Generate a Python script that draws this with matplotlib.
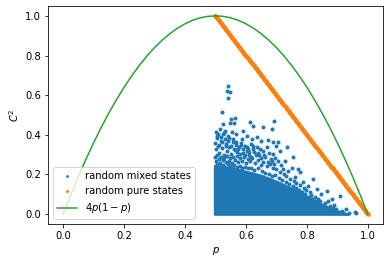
import matplotlib
matplotlib.use("Agg")
import matplotlib.pyplot as plt

# ---- data ----
# random mixed states: isolated points around the dense core
mixed_p = [0.542, 0.538, 0.548, 0.542, 0.522, 0.550, 0.564, 0.548, 0.561, 0.526,
           0.613, 0.624, 0.657, 0.684, 0.693, 0.515, 0.531, 0.524, 0.506, 0.542,
           0.553, 0.569, 0.591, 0.602, 0.586, 0.619, 0.635, 0.651, 0.673, 0.690,
           0.700, 0.668, 0.646, 0.624, 0.608,
           0.706, 0.735, 0.711, 0.690, 0.728, 0.755, 0.692, 0.722, 0.739, 0.750,
           0.771, 0.777, 0.819, 0.761, 0.788, 0.804, 0.832, 0.865, 0.848, 0.881,
           0.870, 0.908, 0.897, 0.914, 0.853, 0.821, 0.930, 0.957, 0.963, 0.940,
           0.500, 0.503, 0.508, 0.512, 0.518, 0.521, 0.527, 0.533, 0.537, 0.545,
           0.550, 0.556, 0.560, 0.566, 0.572, 0.578, 0.583, 0.590, 0.596, 0.603,
           0.611, 0.617, 0.628, 0.636, 0.642, 0.655, 0.662, 0.675, 0.681, 0.697,
           0.705, 0.715,
           0.500, 0.502, 0.506, 0.510, 0.515, 0.519, 0.524, 0.529, 0.534, 0.539,
           0.544, 0.549, 0.554, 0.559, 0.565, 0.570, 0.575, 0.581, 0.587, 0.593,
           0.599, 0.606, 0.614, 0.621, 0.630, 0.639, 0.648, 0.657, 0.668, 0.678,
           0.688, 0.700, 0.712, 0.725, 0.733, 0.745, 0.757, 0.766, 0.778, 0.790,
           0.797, 0.810, 0.815, 0.826, 0.838, 0.843, 0.860, 0.875, 0.885, 0.890,
           0.905, 0.920,
           0.501, 0.504, 0.509, 0.513, 0.517, 0.523, 0.528, 0.532, 0.536, 0.541,
           0.546, 0.552, 0.557, 0.563, 0.568, 0.574, 0.580, 0.585, 0.592, 0.598,
           0.604, 0.610, 0.616, 0.623, 0.632, 0.641, 0.650, 0.660, 0.671, 0.684,
           0.501, 0.505, 0.511, 0.516, 0.525, 0.530, 0.540, 0.547, 0.555, 0.562,
           0.571, 0.579, 0.588, 0.597, 0.607, 0.618, 0.627, 0.638, 0.653, 0.664,
           0.676, 0.686, 0.695, 0.708, 0.718, 0.730, 0.742, 0.753, 0.764, 0.775,
           0.785, 0.795, 0.807, 0.818, 0.830, 0.841, 0.852, 0.863, 0.872, 0.884]
mixed_c = [0.644, 0.622, 0.617, 0.588, 0.516, 0.479, 0.483, 0.459, 0.462, 0.454,
           0.466, 0.445, 0.437, 0.429, 0.472, 0.429, 0.420, 0.403, 0.395, 0.395,
           0.412, 0.403, 0.420, 0.395, 0.378, 0.378, 0.387, 0.370, 0.375, 0.362,
           0.344, 0.336, 0.328, 0.344, 0.328,
           0.362, 0.336, 0.319, 0.303, 0.269, 0.286, 0.252, 0.227, 0.218, 0.235,
           0.227, 0.210, 0.176, 0.185, 0.160, 0.143, 0.126, 0.118, 0.101, 0.076,
           0.067, 0.092, 0.025, 0.017, 0.042, 0.050, 0.025, 0.009, 0.004, 0.006,
           0.360, 0.330, 0.345, 0.310, 0.370, 0.335, 0.300, 0.355, 0.320, 0.340,
           0.305, 0.365, 0.330, 0.350, 0.315, 0.340, 0.360, 0.310, 0.345, 0.320,
           0.300, 0.355, 0.315, 0.340, 0.300, 0.320, 0.290, 0.310, 0.280, 0.285,
           0.270, 0.250,
           0.290, 0.270, 0.300, 0.280, 0.260, 0.290, 0.275, 0.285, 0.265, 0.295,
           0.270, 0.285, 0.260, 0.290, 0.275, 0.295, 0.265, 0.285, 0.270, 0.290,
           0.260, 0.280, 0.270, 0.285, 0.260, 0.275, 0.250, 0.265, 0.245, 0.255,
           0.235, 0.225, 0.210, 0.200, 0.190, 0.175, 0.165, 0.155, 0.145, 0.130,
           0.120, 0.110, 0.095, 0.085, 0.075, 0.065, 0.055, 0.040, 0.030, 0.045,
           0.012, 0.008,
           0.415, 0.385, 0.405, 0.350, 0.390, 0.365, 0.410, 0.380, 0.345, 0.370,
           0.385, 0.345, 0.380, 0.325, 0.365, 0.330, 0.305, 0.350, 0.330, 0.300,
           0.340, 0.315, 0.290, 0.330, 0.300, 0.310, 0.285, 0.300, 0.265, 0.270,
           0.240, 0.255, 0.245, 0.235, 0.250, 0.240, 0.255, 0.245, 0.240, 0.250,
           0.240, 0.245, 0.235, 0.240, 0.230, 0.235, 0.220, 0.230, 0.215, 0.205,
           0.200, 0.190, 0.195, 0.180, 0.170, 0.160, 0.150, 0.140, 0.130, 0.120,
           0.112, 0.100, 0.088, 0.078, 0.068, 0.058, 0.048, 0.036, 0.022, 0.015]

# dense core of random mixed states: upper boundary
core_p = [0.497, 0.52, 0.56, 0.60, 0.65, 0.70, 0.75, 0.80, 0.85, 0.88, 0.91, 0.935]
core_top = [0.245, 0.24, 0.23, 0.215, 0.195, 0.165, 0.13, 0.09, 0.047, 0.026, 0.01, 0.0]

# random pure states
pure_p = [0.500, 0.505, 0.510, 0.515, 0.520, 0.525, 0.530, 0.535, 0.540, 0.545,
          0.550, 0.555, 0.560, 0.565, 0.570, 0.575, 0.580, 0.585, 0.590, 0.595,
          0.600, 0.605, 0.610, 0.615, 0.620, 0.625, 0.630, 0.635, 0.640, 0.645,
          0.650, 0.655, 0.660, 0.665, 0.670, 0.675, 0.680, 0.685, 0.690, 0.695,
          0.700, 0.705, 0.710, 0.715, 0.720, 0.725, 0.730, 0.735, 0.740, 0.745,
          0.750, 0.755, 0.760, 0.765, 0.770, 0.775, 0.780, 0.785, 0.790, 0.795,
          0.800, 0.805, 0.810, 0.815, 0.820, 0.825, 0.830, 0.835, 0.840, 0.845,
          0.850, 0.855, 0.860, 0.865, 0.870, 0.875, 0.880, 0.885, 0.890, 0.895,
          0.900, 0.905, 0.910, 0.915, 0.920, 0.925, 0.930, 0.935, 0.940, 0.945,
          0.950, 0.955, 0.960, 0.965, 0.970, 0.975, 0.980, 0.985, 0.990, 0.995,
          1.000]
pure_c = [1.00, 0.99, 0.98, 0.97, 0.96, 0.95, 0.94, 0.93, 0.92, 0.91,
          0.90, 0.89, 0.88, 0.87, 0.86, 0.85, 0.84, 0.83, 0.82, 0.81,
          0.80, 0.79, 0.78, 0.77, 0.76, 0.75, 0.74, 0.73, 0.72, 0.71,
          0.70, 0.69, 0.68, 0.67, 0.66, 0.65, 0.64, 0.63, 0.62, 0.61,
          0.60, 0.59, 0.58, 0.57, 0.56, 0.55, 0.54, 0.53, 0.52, 0.51,
          0.50, 0.49, 0.48, 0.47, 0.46, 0.45, 0.44, 0.43, 0.42, 0.41,
          0.40, 0.39, 0.38, 0.37, 0.36, 0.35, 0.34, 0.33, 0.32, 0.31,
          0.30, 0.29, 0.28, 0.27, 0.26, 0.25, 0.24, 0.23, 0.22, 0.21,
          0.20, 0.19, 0.18, 0.17, 0.16, 0.15, 0.14, 0.13, 0.12, 0.11,
          0.10, 0.09, 0.08, 0.07, 0.06, 0.05, 0.04, 0.03, 0.02, 0.01,
          0.00]

# bound curve 4p(1-p)
curve_p = [0.0, 0.025, 0.05, 0.075, 0.1, 0.125, 0.15, 0.175, 0.2, 0.225,
           0.25, 0.275, 0.3, 0.325, 0.35, 0.375, 0.4, 0.425, 0.45, 0.475,
           0.5, 0.525, 0.55, 0.575, 0.6, 0.625, 0.65, 0.675, 0.7, 0.725,
           0.75, 0.775, 0.8, 0.825, 0.85, 0.875, 0.9, 0.925, 0.95, 0.975, 1.0]
curve_c = [0.0, 0.0975, 0.19, 0.2775, 0.36, 0.4375, 0.51, 0.5775, 0.64, 0.6975,
           0.75, 0.7975, 0.84, 0.8775, 0.91, 0.9375, 0.96, 0.9775, 0.99, 0.9975,
           1.0, 0.9975, 0.99, 0.9775, 0.96, 0.9375, 0.91, 0.8775, 0.84, 0.7975,
           0.75, 0.6975, 0.64, 0.5775, 0.51, 0.4375, 0.36, 0.2775, 0.19, 0.0975, 0.0]

labels = ["random mixed states", "random pure states", "$4p(1-p)$"]

# ---- plot ----
DPI = 72
fig = plt.figure(figsize=(390 / DPI, 264 / DPI), dpi=DPI)
ax = fig.add_axes([0.123, 0.1515, 0.859, 0.826])

blue = "#1f77b4"
orange = "#ff7f0e"
ax.fill_between(core_p, 0, core_top, facecolor=blue, edgecolor=blue,
                linewidth=2.5, zorder=2)
ax.plot(mixed_p, mixed_c, ".", color=blue, markersize=6.0, label=labels[0], zorder=2)
# pure states lie densely along a band; connect them so the band reads as continuous
ax.plot(pure_p, pure_c, "-", color=orange, linewidth=3.8, solid_capstyle="round", zorder=3)
ax.plot(pure_p, pure_c, ".", color=orange, markersize=7.0, label=labels[1], zorder=3)
ax.plot(curve_p, curve_c, "-", color="#2ca02c", linewidth=1.5, label=labels[2], zorder=4)

ax.set_xlim(-0.05, 1.05)
ax.set_ylim(-0.05, 1.05)
ax.set_xticks([0.0, 0.2, 0.4, 0.6, 0.8, 1.0])
ax.set_yticks([0.0, 0.2, 0.4, 0.6, 0.8, 1.0])
ax.set_xlabel("$p$")
ax.set_ylabel("$C^2$")
ax.legend(loc="lower left", markerscale=0.55)

fig.savefig("out.png", dpi=DPI)
